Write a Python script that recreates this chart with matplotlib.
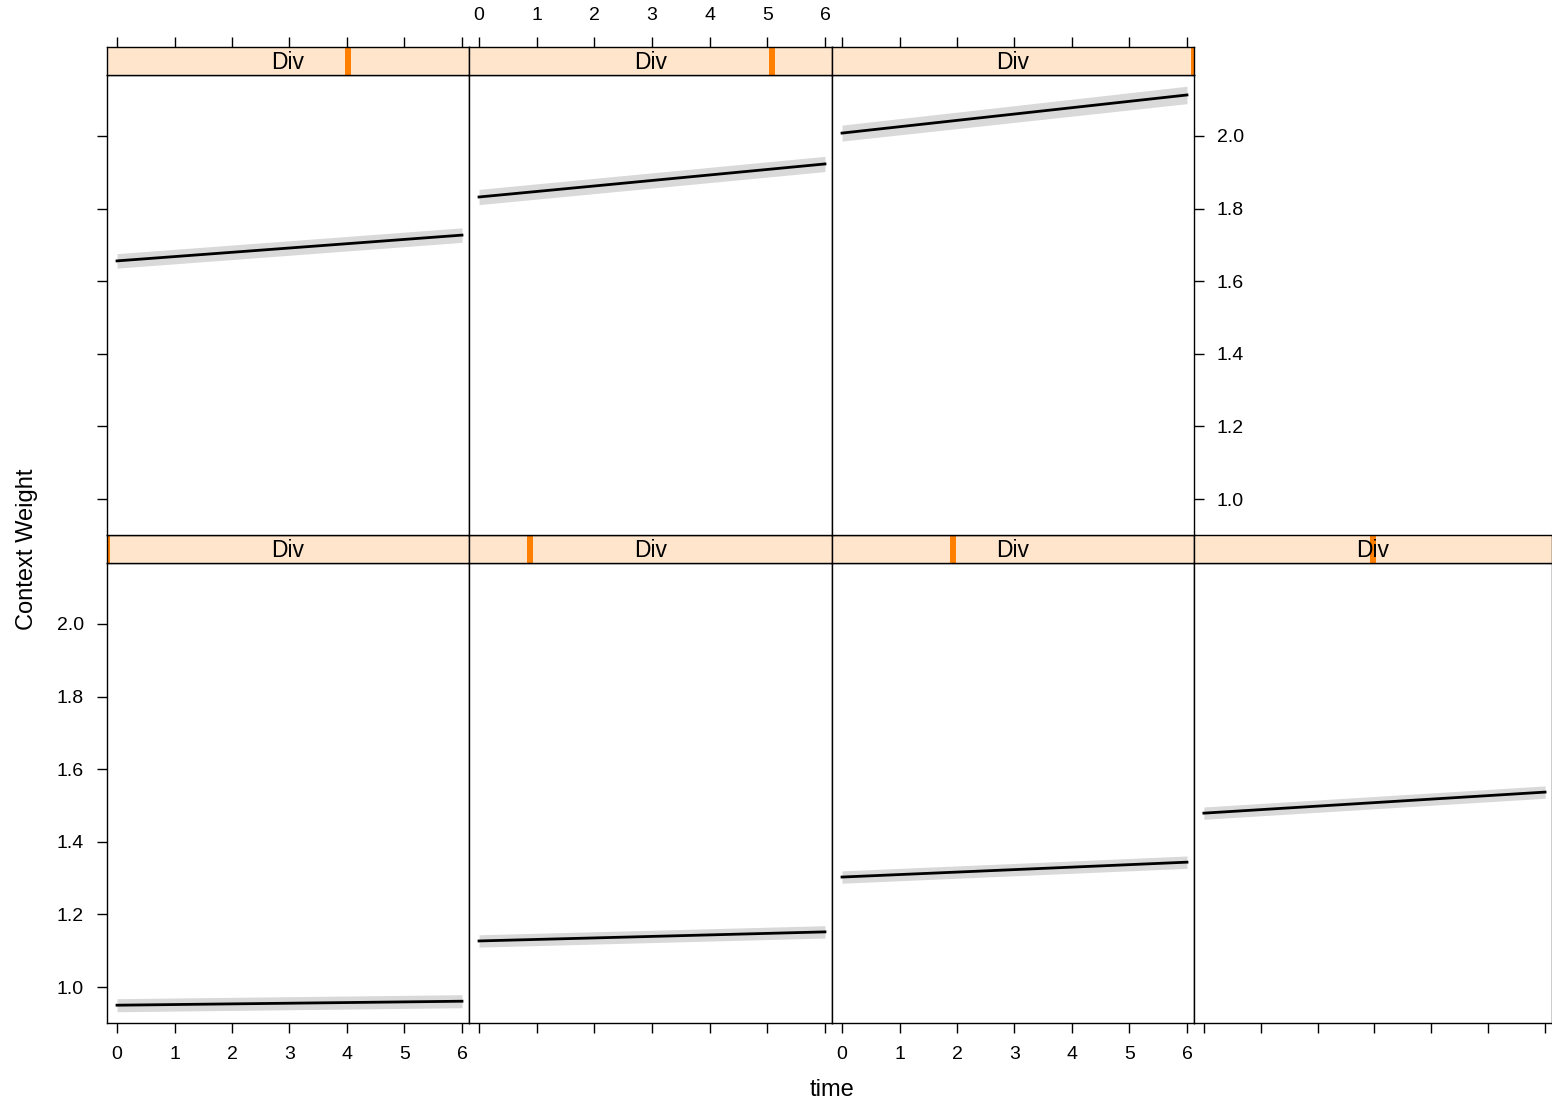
import numpy as np
import matplotlib.pyplot as plt
from matplotlib.patches import Rectangle

plt.rcParams['font.family'] = ['Liberation Sans', 'DejaVu Sans']

# effect of time at each of the 7 Div levels (fit and 95% band at time 0 and 6)
time = [0, 6]
fit_t0 = [0.950, 1.127, 1.303, 1.479, 1.656, 1.832, 2.008]
fit_t6 = [0.961, 1.152, 1.344, 1.537, 1.727, 1.923, 2.113]
lower_t0 = [0.932, 1.110, 1.286, 1.462, 1.636, 1.811, 1.986]
lower_t6 = [0.943, 1.135, 1.327, 1.520, 1.707, 1.902, 2.089]
upper_t0 = [0.968, 1.144, 1.320, 1.496, 1.676, 1.853, 2.030]
upper_t6 = [0.979, 1.169, 1.361, 1.554, 1.747, 1.944, 2.137]
strip_label = "Div"
x_ticks = [0, 1, 2, 3, 4, 5, 6]
y_ticks = [1.0, 1.2, 1.4, 1.6, 1.8, 2.0]

W, H = 1552, 1101
fig = plt.figure(figsize=(W / 100, H / 100), dpi=100)

col_x = [107, 469, 832, 1194, 1552]
rows = {"bottom": (563, 1023, 535), "top": (75, 535, 47)}
xlim = (-0.174, 6.122)
ylim = (0.901, 2.168)

# panel order: bottom row left->right, then top row
cells = [("bottom", 0), ("bottom", 1), ("bottom", 2), ("bottom", 3),
         ("top", 0), ("top", 1), ("top", 2)]

tick_kw = dict(direction="out", length=7, width=1.0, labelsize=14, pad=9.5)

def fig_rect(x0, x1, ytop, ybot):
    return [x0 / W, 1 - ybot / H, (x1 - x0) / W, (ybot - ytop) / H]

for i, (row, c) in enumerate(cells):
    ytop, ybot, stop = rows[row]
    x0, x1 = col_x[c], col_x[c + 1]
    ax = fig.add_axes(fig_rect(x0, x1, ytop, ybot))
    ax.fill_between(time, [lower_t0[i], lower_t6[i]], [upper_t0[i], upper_t6[i]],
                    color="#d9d9d9", lw=0)
    ax.plot(time, [fit_t0[i], fit_t6[i]], color="black", lw=2.0)
    ax.set_xlim(*xlim)
    ax.set_ylim(*ylim)
    for s in ax.spines.values():
        s.set_linewidth(1.0)
    ax.tick_params(**tick_kw)
    ax.set_xticks(x_ticks)
    ax.set_yticks(y_ticks)
    ax.set_yticklabels([f"{v:.1f}" for v in y_ticks])

    # x axis: ticks on the bottom row, labels alternating
    if row == "bottom":
        ax.tick_params(axis="x", bottom=True, labelbottom=(c in (0, 2)))
    else:
        ax.tick_params(axis="x", bottom=False, labelbottom=False)

    # y axis: left ticks on first column, right on top-right panel
    left = c == 0
    right = row == "top" and c == 2
    ax.tick_params(axis="y", left=left, labelleft=(left and row == "bottom"),
                   right=right, labelright=right)

    # strip with level indicator
    sax = fig.add_axes(fig_rect(x0, x1, stop, ytop))
    sax.set_facecolor("#ffe5cc")
    sax.set_xlim(*xlim)
    sax.set_ylim(0, 1)
    sax.set_yticks([])
    sax.set_xticks(x_ticks)
    sax.tick_params(axis="x", bottom=False, labelbottom=False,
                    top=(row == "top"), labeltop=(row == "top" and c == 1),
                    **tick_kw)
    for s in sax.spines.values():
        s.set_linewidth(1.0)
    frac = i / 6
    bw = 6 / (x1 - x0)
    sax.add_patch(Rectangle((frac - bw / 2, 0), bw, 1, transform=sax.transAxes,
                            facecolor="#ff7f00", edgecolor="none", clip_on=True))
    sax.text(0.5, 0.45, strip_label, transform=sax.transAxes, ha="center",
             va="center", fontsize=16.5)

fig.text(27 / W, 1 - 549 / H, "Context Weight", rotation=90, ha="center",
         va="center", fontsize=17)
fig.text(832 / W, 1 - 1090 / H, "time", ha="center", va="center", fontsize=17)

fig.savefig("out.png", dpi=100)
